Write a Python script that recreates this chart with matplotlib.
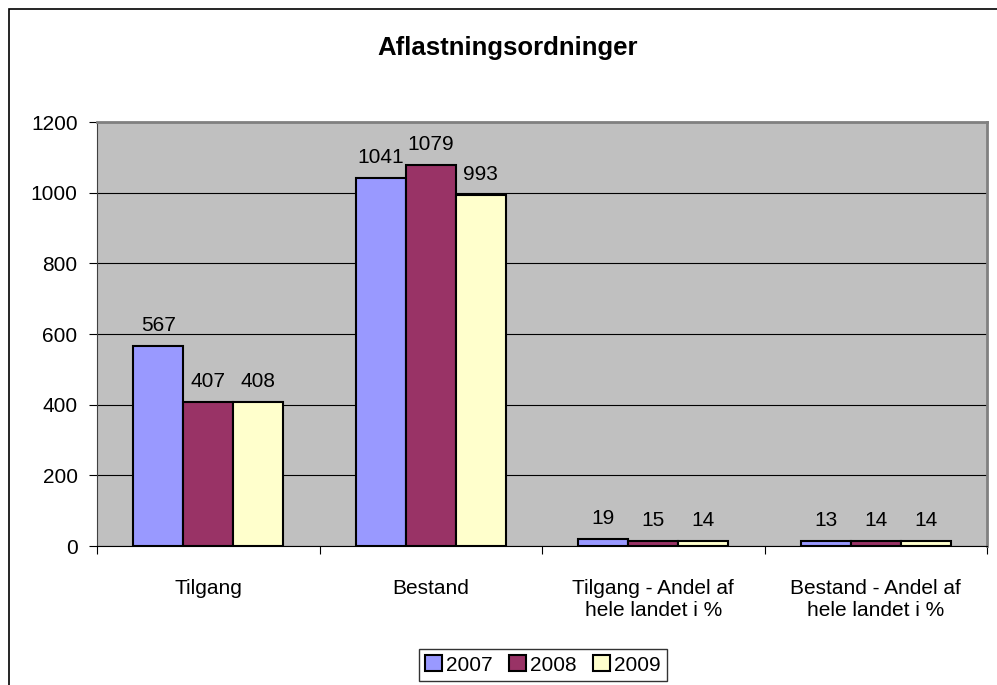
import matplotlib
matplotlib.use("Agg")
import matplotlib.pyplot as plt
import numpy as np
from matplotlib.patches import Rectangle

categories = ["Tilgang", "Bestand", "Tilgang - Andel af\nhele landet i %", "Bestand - Andel af\nhele landet i %"]
years = ["2007", "2008", "2009"]
v2007 = [567, 1041, 19, 13]
v2008 = [407, 1079, 15, 14]
v2009 = [408, 993, 14, 14]
yticks = [0, 200, 400, 600, 800, 1000, 1200]
title = "Aflastningsordninger"

colors = ["#9999FF", "#993366", "#FFFFCC"]
series = [v2007, v2008, v2009]

plt.rcParams['font.family'] = ['Liberation Sans', 'DejaVu Sans']
FS = 15

fig = plt.figure(figsize=(9.97, 6.85), dpi=100)
fig.patch.set_facecolor("white")
# outer chart border (right/bottom cropped off)
fig.patches.append(Rectangle((9/997, -0.05), 1.2, 1 - 9/685 + 0.05, transform=fig.transFigure,
                             fill=False, edgecolor="black", linewidth=1.2))

ax = fig.add_axes([97/997, 1 - 546/685, (987-97)/997, (546-122)/685])
ax.set_facecolor("#C0C0C0")
x = np.arange(len(categories))
w = 0.225
for i, (vals, c, lab) in enumerate(zip(series, colors, years)):
    pos = x + (i - 1) * w
    bars = ax.bar(pos, vals, width=w, color=c, edgecolor="black", linewidth=1.5, label=lab, zorder=3)
    for b, v in zip(bars, vals):
        ax.annotate(str(v), (b.get_x() + b.get_width() / 2, v), xytext=(0, 8),
                    textcoords="offset points", ha="center", va="bottom", fontsize=FS)

ax.set_xlim(-0.5, len(categories) - 0.5)
ax.set_ylim(0, 1200)
ax.set_yticks(yticks)
ax.set_yticklabels([str(t) for t in yticks], fontsize=FS)
ax.yaxis.grid(True, color="black", linewidth=0.8, zorder=0)
ax.set_axisbelow(True)

ax.set_xticks(x)
ax.set_xticklabels(categories, fontsize=FS, linespacing=1.15)
ax.tick_params(axis="x", length=0, pad=24)
ax.set_xticks(np.arange(-0.5, len(categories) + 0.5, 1), minor=True)
ax.tick_params(axis="x", which="minor", length=6, color="black", width=0.8)
ax.tick_params(axis="y", length=6, color="black", width=0.8, pad=8)

for s in ["top", "right"]:
    ax.spines[s].set_color("#808080")
    ax.spines[s].set_linewidth(2)
ax.spines["left"].set_color("#404040")
ax.spines["left"].set_linewidth(0.8)
ax.spines["bottom"].set_color("black")
ax.spines["bottom"].set_linewidth(0.8)

fig.text(508/997, 1 - 48/685, title, ha="center", va="center",
         fontsize=18.5, fontweight="bold")

leg = fig.legend(loc="center", bbox_to_anchor=(543/997, 1 - 665/685), ncol=3, frameon=True,
                 fontsize=FS, handlelength=0.8, handleheight=0.8, handletextpad=0.2,
                 columnspacing=0.8, borderpad=0.3, fancybox=False)
leg.get_frame().set_edgecolor("black")
leg.get_frame().set_linewidth(1.0)

fig.savefig("out.png", dpi=100, facecolor="white")
